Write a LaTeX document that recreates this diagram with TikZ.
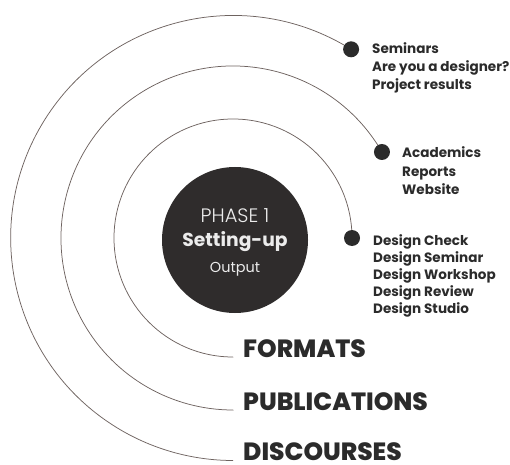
\documentclass[tikz,border=0pt]{standalone}
\usepackage{fontspec}
\setmainfont{Poppins}
\IfFontExistsTF{Poppins ExtraBold}{\newfontfamily\heavyf{Poppins ExtraBold}}{\newcommand\heavyf{\bfseries}}
\IfFontExistsTF{Poppins Light}{\newfontfamily\lightf{Poppins Light}}{\newcommand\lightf{\relax}}
\usetikzlibrary{backgrounds}
\definecolor{ink}{HTML}{2B2B2B}
\definecolor{disc}{HTML}{2F2C2C}
\definecolor{linec}{HTML}{6E6360}
\definecolor{pale}{HTML}{ECECEC}
\begin{document}
\begin{tikzpicture}[x=1bp,y=-1bp,
  arcline/.style={draw=linec, line width=0.75bp},
  dot/.style={circle, fill=ink, inner sep=0pt, minimum size=16bp},
  item/.style={anchor=base west, inner sep=0pt, text=ink, font=\fontsize{13.6}{15}\selectfont\bfseries},
  head/.style={anchor=base west, inner xsep=10bp, inner ysep=0pt, text=ink, font=\fontsize{25}{28}\selectfont\heavyf},
  ctext/.style={anchor=base, inner sep=0pt, text=pale}
]
\useasboundingbox (0,0) rectangle (510,465);
% centre disc
\node[circle, fill=disc, minimum size=146bp, inner sep=0pt] (ph) at (235,240) {};
\node[ctext, font=\fontsize{19.5}{21}\selectfont\lightf] (p1) at (235,223) {PHASE 1};
\node[ctext, font=\fontsize{18.8}{22}\selectfont\bfseries] (p2) at (235,247) {Setting-up};
\node[ctext, font=\fontsize{14.5}{16}\selectfont] (p3) at (235,272) {Output};
% headings
\node[head] (fmt) at (233,357) {FORMATS};
\node[head] (pub) at (233,410) {PUBLICATIONS};
\node[head] (dis) at (233,460.5) {DISCOURSES};
% dots
\node[dot] (d1) at (352,238) {};
\node[dot] (d2) at (381.96,152) {};
\node[dot] (d3) at (351.1,49.3) {};
% arcs
\begin{scope}[on background layer]
\draw[arcline] (d1.center) arc[start angle=0, end angle=270, radius=119bp] -- (fmt.base west);
\draw[arcline] (d2.center) arc[start angle=30, end angle=270, radius=172bp] -- (pub.base west);
\draw[arcline] (d3.center) arc[start angle=58, end angle=270, radius=222.5bp] -- (dis.base west);
\end{scope}
% lists
\node[item] (s1) at (372,54) {Seminars};
\node[item] (s2) at (372,72) {Are you a designer?};
\node[item] (s3) at (372,90) {Project results};
\node[item] (a1) at (402,158) {Academics};
\node[item] (a2) at (402,177) {Reports};
\node[item] (a3) at (402,195) {Website};
\node[item] (f1) at (373,246) {Design Check};
\node[item] (f2) at (373,262) {Design Seminar};
\node[item] (f3) at (373,279) {Design Workshop};
\node[item] (f4) at (373,296) {Design Review};
\node[item] (f5) at (373,313) {Design Studio};
\end{tikzpicture}
\end{document}
